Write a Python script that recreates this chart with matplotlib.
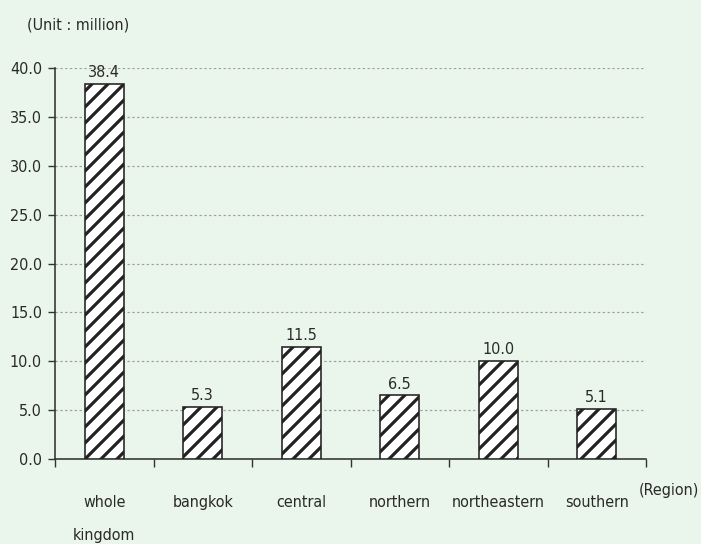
import numpy as np
import matplotlib
matplotlib.use("Agg")
import matplotlib.pyplot as plt

# data
regions = ["whole\nkingdom", "bangkok", "central", "northern", "northeastern", "southern"]
values = [38.4, 5.3, 11.5, 6.5, 10.0, 5.1]
y_ticks = [0, 5, 10, 15, 20, 25, 30, 35, 40]

bg = "#eaf5ec"
txt = "#2a2a2a"

plt.rcParams["font.family"] = ["DejaVu Sans"]
plt.rcParams["font.stretch"] = "condensed"
plt.rcParams["hatch.linewidth"] = 1.6
plt.rcParams["hatch.color"] = "#1a1a1a"

fs = 8

fig = plt.figure(figsize=(701 / 144, 544 / 144), dpi=144, facecolor=bg)
ax = fig.add_axes([55 / 701, 1 - 459 / 544, (646 - 55) / 701, (459 - 68) / 544])
ax.set_facecolor(bg)

x = np.arange(len(regions))
bars = ax.bar(x, values, width=0.4, color="white", edgecolor="#222222",
              linewidth=0.8, hatch="///", zorder=3)

for xi, v in zip(x, values):
    ax.text(xi, v + 0.4, f"{v:.1f}", ha="center", va="bottom", fontsize=fs, color=txt)

ax.set_xlim(-0.5, len(regions) - 0.5)
ax.set_ylim(0, 40)
ax.set_yticks(y_ticks)
ax.set_yticklabels([f"{t:.1f}" for t in y_ticks], fontsize=fs, color=txt)
ax.set_xticks(np.arange(len(regions) + 1) - 0.5)
ax.set_xticklabels([])
ax.set_xticks(x, minor=True)
ax.set_xticklabels(regions, minor=True, fontsize=fs, color=txt, linespacing=2.5)
ax.tick_params(axis="x", which="minor", length=0, pad=18)
ax.tick_params(axis="x", which="major", length=4, width=0.7, color="#333333")
ax.tick_params(axis="y", length=3.5, width=0.7, color="#333333", pad=3)

ax.grid(axis="y", color="#a0a0a0", linestyle=(0, (2, 2)), linewidth=0.6, zorder=0)
ax.set_axisbelow(True)

for s in ["top", "right"]:
    ax.spines[s].set_visible(False)
for s in ["left", "bottom"]:
    ax.spines[s].set_color("#333333")
    ax.spines[s].set_linewidth(0.8)

fig.text(27 / 701, 1 - 25 / 544, "(Unit : million)", fontsize=fs, color=txt,
         ha="left", va="center")
fig.text(699 / 701, 1 - 491 / 544, "(Region)", fontsize=fs, color=txt,
         ha="right", va="center")

fig.savefig("out.png", dpi=144, facecolor=bg)
